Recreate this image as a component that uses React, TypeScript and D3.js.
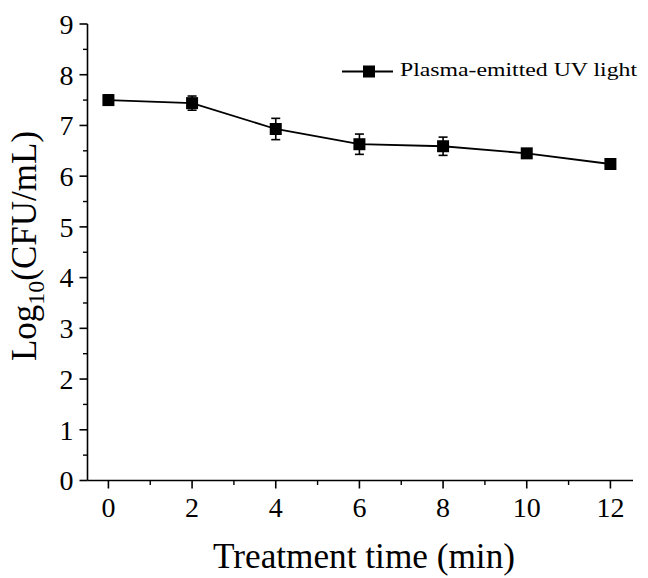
import React from "react";
import * as d3 from "d3";

const times = [0, 2, 4, 6, 8, 10, 12];
const logCfu = [7.5, 7.44, 6.93, 6.63, 6.59, 6.45, 6.24];
const errs = [0.1, 0.14, 0.21, 0.2, 0.18, 0.08, 0.06];
const xTicks = [0, 2, 4, 6, 8, 10, 12];
const xMinor = [1, 3, 5, 7, 9, 11];
const yTicks = [0, 1, 2, 3, 4, 5, 6, 7, 8, 9];
const yMinor = [0.5, 1.5, 2.5, 3.5, 4.5, 5.5, 6.5, 7.5, 8.5];
const seriesName = "Plasma-emitted UV light";

export default function App() {
  const W = 648, H = 578;
  const left = 87.5, right = 633, top = 24, bottom = 480.5;
  const x = d3.scaleLinear().domain([-0.5, 12.54]).range([left, right]);
  const y = d3.scaleLinear().domain([0, 9]).range([bottom, top]);
  const line = d3.line<number>().x((_, i) => x(times[i])).y((d) => y(d));
  const font = "'Liberation Serif', 'Times New Roman', serif";
  return (
    <svg width={W} height={H} style={{ position: "absolute", left: 0, top: 0, background: "#fff" }}>
      <rect width={W} height={H} fill="#fff" />
      {/* axes */}
      <line x1={left} x2={left} y1={top} y2={bottom} stroke="#000" strokeWidth={1.6} />
      <line x1={left} x2={right} y1={bottom} y2={bottom} stroke="#000" strokeWidth={1.6} />
      {yTicks.map((t) => (
        <g key={"y" + t}>
          <line x1={left - 8} x2={left} y1={y(t)} y2={y(t)} stroke="#000" strokeWidth={1.6} />
          <text x={left - 14} y={y(t)} dy="0.35em" textAnchor="end" fontFamily={font} fontSize={28}>{t}</text>
        </g>
      ))}
      {yMinor.map((t) => (
        <line key={"ym" + t} x1={left - 4.5} x2={left} y1={y(t)} y2={y(t)} stroke="#000" strokeWidth={1.4} />
      ))}
      {xTicks.map((t) => (
        <g key={"x" + t}>
          <line x1={x(t)} x2={x(t)} y1={bottom} y2={bottom + 8} stroke="#000" strokeWidth={1.6} />
          <text x={x(t)} y={bottom + 36} textAnchor="middle" fontFamily={font} fontSize={28}>{t}</text>
        </g>
      ))}
      {xMinor.map((t) => (
        <line key={"xm" + t} x1={x(t)} x2={x(t)} y1={bottom} y2={bottom + 4.5} stroke="#000" strokeWidth={1.4} />
      ))}
      {/* series */}
      <path d={line(logCfu) || ""} fill="none" stroke="#000" strokeWidth={1.8} />
      {logCfu.map((v, i) => {
        const cx = x(times[i]);
        const e = errs[i];
        return (
          <g key={"p" + i}>
            <line x1={cx} x2={cx} y1={y(v + e)} y2={y(v - e)} stroke="#000" strokeWidth={1.6} />
            <line x1={cx - 4.5} x2={cx + 4.5} y1={y(v + e)} y2={y(v + e)} stroke="#000" strokeWidth={1.6} />
            <line x1={cx - 4.5} x2={cx + 4.5} y1={y(v - e)} y2={y(v - e)} stroke="#000" strokeWidth={1.6} />
            <rect x={cx - 6} y={y(v) - 6} width={12} height={12} fill="#000" />
          </g>
        );
      })}
      {/* legend */}
      <line x1={342} x2={393} y1={71.5} y2={71.5} stroke="#000" strokeWidth={1.8} />
      <rect x={363} y={65.5} width={12} height={12} fill="#000" />
      <text x={400} y={76} fontFamily={font} fontSize={19} textLength={237} lengthAdjust="spacingAndGlyphs">{seriesName}</text>
      {/* axis titles */}
      <text x={213} y={568} fontFamily={font} fontSize={35} textLength={302} lengthAdjust="spacingAndGlyphs">Treatment time (min)</text>
      <text transform={`translate(36, 246) rotate(-90)`} textAnchor="middle" fontFamily={font} fontSize={35}>
        Log<tspan fontSize={24} dy={8}>10</tspan><tspan dy={-8}>(CFU/mL)</tspan>
      </text>
    </svg>
  );
}
